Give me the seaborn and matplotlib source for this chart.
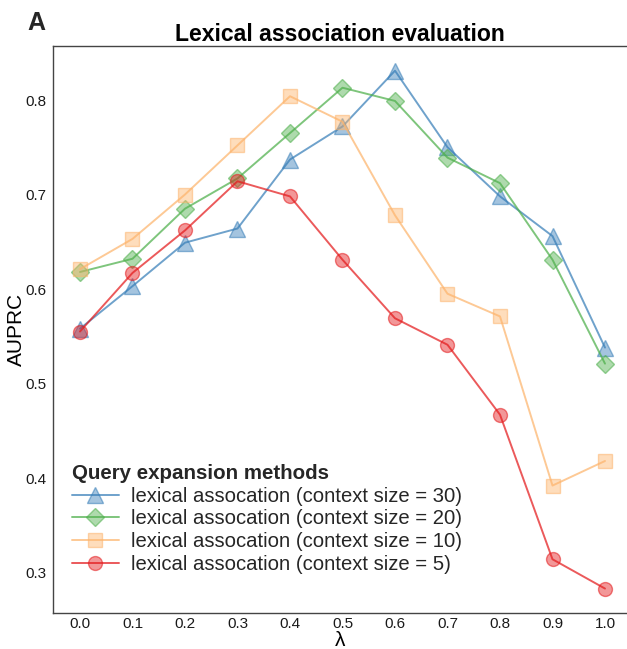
import matplotlib
matplotlib.use("Agg")
import matplotlib.pyplot as plt
from matplotlib.lines import Line2D
import matplotlib.colors as mcolors
import seaborn as sns
import pandas as pd

lambdas = [0.0, 0.1, 0.2, 0.3, 0.4, 0.5, 0.6, 0.7, 0.8, 0.9, 1.0]
ctx30 = [0.558, 0.603, 0.649, 0.664, 0.737, 0.772, 0.831, 0.750, 0.698, 0.656, 0.538]
ctx20 = [0.618, 0.632, 0.685, 0.717, 0.765, 0.813, 0.799, 0.739, 0.712, 0.631, 0.521]
ctx10 = [0.621, 0.653, 0.700, 0.752, 0.804, 0.777, 0.678, 0.595, 0.571, 0.392, 0.418]
ctx5 = [0.555, 0.617, 0.662, 0.714, 0.698, 0.631, 0.569, 0.541, 0.467, 0.314, 0.283]

labels = ["lexical assocation (context size = 30)",
          "lexical assocation (context size = 20)",
          "lexical assocation (context size = 10)",
          "lexical assocation (context size = 5)"]
series = [ctx30, ctx20, ctx10, ctx5]
colors = ["#377EB8", "#4DAF4A", "#FDB46C", "#E41A1C"]
markers = ["^", "D", "s", "o"]
msizes = [12, 9.5, 9.5, 10]

title = "Lexical association evaluation"
xticks = [0.0, 0.1, 0.2, 0.3, 0.4, 0.5, 0.6, 0.7, 0.8, 0.9, 1.0]
xticklabels = ["0.0", "0.1", "0.2", "0.3", "0.4", "0.5", "0.6", "0.7", "0.8", "0.9", "1.0"]
yticks = [0.3, 0.4, 0.5, 0.6, 0.7, 0.8]
yticklabels = ["0.3", "0.4", "0.5", "0.6", "0.7", "0.8"]

sns.set_theme(style="white")
plt.rcParams['font.family'] = ['Liberation Sans', 'DejaVu Sans']

W, H = 627, 649
fig = plt.figure(figsize=(W / 100, H / 100), dpi=100)
ax = fig.add_axes([53 / W, 1 - 613 / H, (W - 53) / W, (613 - 45.5) / H])

handles = []
for vals, lab, c, m, ms in zip(series, labels, colors, markers, msizes):
    df = pd.DataFrame({"lambda": lambdas, "AUPRC": vals})
    lc = mcolors.to_rgba(c, 0.72)
    fc = mcolors.to_rgba(c, 0.45)
    ec = mcolors.to_rgba(c, 0.55)
    sns.lineplot(data=df, x="lambda", y="AUPRC", ax=ax, color=lc, lw=1.4,
                 marker=m, markersize=ms, markerfacecolor=fc,
                 markeredgecolor=ec, markeredgewidth=1.0)
    handles.append(Line2D([0], [0], color=lc, lw=1.4, marker=m, markersize=ms,
                          markerfacecolor=fc, markeredgecolor=ec, markeredgewidth=1.0))

ax.set_xlim(-0.0514, 1.0419)
ax.set_ylim(0.8 - 513 / 945, 0.8 + 54.5 / 945)
ax.set_xticks(xticks)
ax.set_xticklabels(xticklabels)
ax.set_yticks(yticks)
ax.set_yticklabels(yticklabels)
ax.tick_params(axis="both", length=0, labelsize=11, colors="#1a1a1a")
ax.tick_params(axis="y", pad=5)
ax.tick_params(axis="x", pad=3)
ax.grid(False)

for s in ["left", "top", "bottom"]:
    ax.spines[s].set_visible(True)
    ax.spines[s].set_color("#444444")
    ax.spines[s].set_linewidth(1.0)
ax.spines["right"].set_visible(False)

ax.set_xlabel("λ", fontsize=15, labelpad=0, color="black")
ax.set_ylabel("AUPRC", fontsize=15, labelpad=-1, color="black")
ax.set_title(title, fontsize=16.6, fontweight="bold", pad=3, color="black")

fig.text(27 / W, 1 - 30 / H, "A", fontsize=18, fontweight="bold", ha="left", va="baseline")

leg = ax.legend(handles=handles, labels=labels, title="Query expansion methods",
                loc="upper left", bbox_to_anchor=(72 / W, 1 - 464 / H),
                bbox_transform=fig.transFigure, frameon=False, fontsize=14.6,
                title_fontproperties={"weight": "bold", "size": 14.8},
                handlelength=2.3, handletextpad=0.62, labelspacing=0.18,
                borderpad=0, borderaxespad=0)
leg._legend_box.align = "left"

fig.savefig("out.png", dpi=100)
